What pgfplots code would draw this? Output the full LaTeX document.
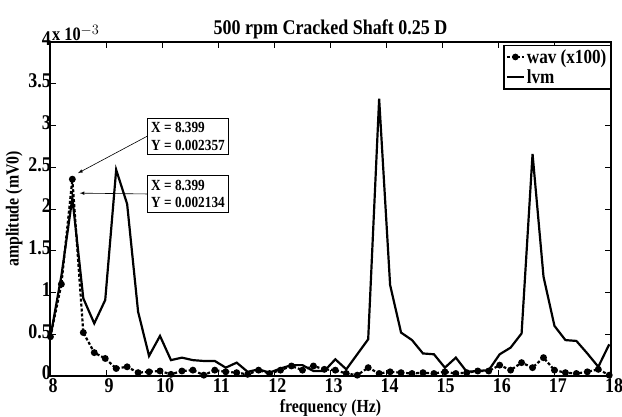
\documentclass[border=0pt]{standalone}
\usepackage{fontspec}
\setmainfont{Liberation Serif}[FakeStretch=0.86]
\usepackage{pgfplots}
\pgfplotsset{compat=1.18}
\usepackage{pgfplotstable}

% frequency bins of 0.1953125 Hz; amplitudes in units of 1e-3 mV0
\pgfplotstableread{
f       lvm    wav
8.0078  0.47   0.47
8.2031  1.20   1.10
8.3984  2.134  2.357
8.5938  0.93   0.52
8.7891  0.63   0.28
8.9844  0.91   0.21
9.1797  2.47   0.09
9.3750  2.06   0.11
9.5703  0.77   0.04
9.7656  0.24   0.05
9.9609  0.48   0.06
10.1563 0.19   0.02
10.3516 0.22   0.06
10.5469 0.19   0.07
10.7422 0.18   0.01
10.9375 0.18   0.07
11.1328 0.10   0.05
11.3281 0.16   0.04
11.5234 0.05   0.02
11.7188 0.08   0.07
11.9141 0.04   0.03
12.1094 0.09   0.07
12.3047 0.13   0.12
12.5000 0.13   0.07
12.6953 0.06   0.12
12.8906 0.06   0.08
13.0859 0.20   0.07
13.2813 0.08   0.03
13.4766 0.26   0.01
13.6719 0.44   0.10
13.8672 3.32   0.03
14.0625 1.09   0.05
14.2578 0.52   0.04
14.4531 0.43   0.03
14.6484 0.27   0.04
14.8438 0.26   0.03
15.0391 0.10   0.05
15.2344 0.22   0.03
15.4297 0.05   0.04
15.6250 0.06   0.06
15.8203 0.07   0.06
16.0156 0.26   0.13
16.2109 0.34   0.07
16.4063 0.51   0.16
16.6016 2.66   0.10
16.7969 1.19   0.22
16.9922 0.60   0.07
17.1875 0.43   0.04
17.3828 0.42   0.03
17.5781 0.27   0.05
17.7734 0.11   0.08
17.9688 0.38   0.01
}\spectrum

\begin{document}
\begin{tikzpicture}
\begin{axis}[name=ax,
  scale only axis, width=561bp, height=334bp,
  xmin=8, xmax=18, ymin=0, ymax=4,
  xtick={8,...,18}, ytick={0,0.5,...,4},
  yticklabels={0,0.5,1,1.5,2,2.5,3,3.5,4},
  tick align=inside, major tick length=6bp,
  axis line style={line width=1.5pt}, every tick/.style={line width=1pt,black},
  /pgf/number format/assume math mode=true,
  tick label style={font=\bfseries\fontsize{21}{21}\selectfont, inner sep=1pt},
  xticklabel style={yshift=-1bp, xshift=3bp}, yticklabel style={xshift=2bp, yshift=3bp},
  title={\bfseries 500 rpm Cracked Shaft 0.25 D},
  title style={font=\fontsize{21}{21}\selectfont, yshift=-6bp},
  xlabel={\bfseries frequency (Hz)}, ylabel={\bfseries amplitude (mV0)},
  label style={font=\fontsize{18.5}{18.5}\selectfont, inner sep=0pt},
  xlabel style={at={(axis description cs:0.5,-0.095)}, anchor=center},
  ylabel style={at={(axis description cs:-0.064,0.5)}, anchor=center},
  legend style={at={(1,0.992)}, anchor=north east, draw=black, line width=1.3pt,
    font=\bfseries\fontsize{20}{20}\selectfont, inner sep=2pt, row sep=1pt},
  legend image post style={line width=2pt},
  legend cell align=left,
  clip=true]
  \addplot[line width=2.2pt, densely dashed, mark=*, mark size=2.3pt,
    mark options={solid}] table[x=f,y=wav] {\spectrum};
  \addlegendentry{wav (x100)}
  \addplot[line width=2.2pt, black] table[x=f,y=lvm] {\spectrum};
  \addlegendentry{lvm}
  \node[draw, line width=0.6pt, align=left, inner sep=4pt,
    font=\bfseries\fontsize{15.5}{18}\selectfont] (b1) at (axis cs:10.46,2.87)
    {X = 8.399\\Y = 0.002357};
  \node[draw, line width=0.6pt, align=left, inner sep=4pt,
    font=\bfseries\fontsize{15.5}{18}\selectfont] (b2) at (axis cs:10.46,2.18)
    {X = 8.399\\Y = 0.002134};
  \draw[-latex, line width=0.6pt] (b1.west) -- (axis cs:8.50,2.43);
  \draw[-latex, line width=0.6pt] (b2.west) -- (axis cs:8.53,2.19);
\end{axis}
\node[anchor=south west, font=\bfseries\fontsize{19}{19}\selectfont, inner sep=0pt]
  at ([shift={(2bp,1bp)}]ax.north west) {x 10$^{-3}$};
\pgfresetboundingbox
\path ([shift={(-50bp,-41bp)}]ax.south west) rectangle ([shift={(11bp,42bp)}]ax.north east);
\end{tikzpicture}
\end{document}
